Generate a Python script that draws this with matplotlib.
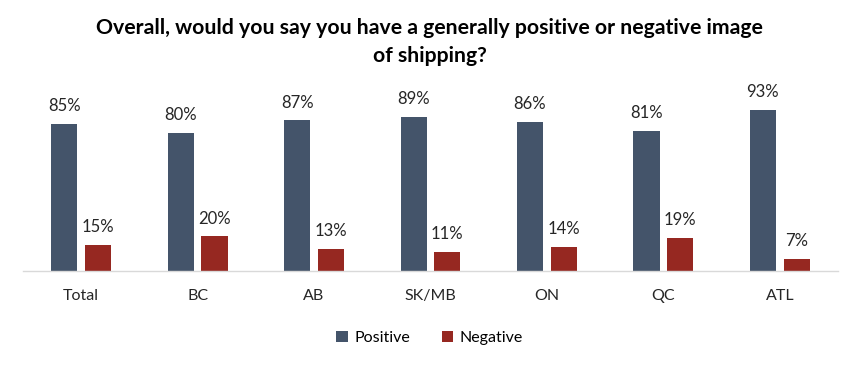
import numpy as np
import matplotlib.pyplot as plt

plt.rcParams['font.family'] = ['Lato', 'DejaVu Sans']

categories = ['Total', 'BC', 'AB', 'SK/MB', 'ON', 'QC', 'ATL']
positive = [85, 80, 87, 89, 86, 81, 93]
negative = [15, 20, 13, 11, 14, 19, 7]

POS_COLOR = '#44546A'
NEG_COLOR = '#962821'

fig = plt.figure(figsize=(8.59, 3.69), dpi=100)
ax = fig.add_axes([23 / 859, 98 / 369, 815 / 859, 173 / 369])

x = np.arange(len(categories))
w = 0.225
off = 0.145
b1 = ax.bar(x - off, positive, w, color=POS_COLOR, label='Positive')
b2 = ax.bar(x + off, negative, w, color=NEG_COLOR, label='Negative')

for bars, vals in ((b1, positive), (b2, negative)):
    for rect, v in zip(bars, vals):
        ax.annotate('{0}%'.format(v), (rect.get_x() + rect.get_width() / 2, v),
                    xytext=(0, 7), textcoords='offset points',
                    ha='center', va='bottom', fontsize=12, color='#262626')

ax.set_xlim(-0.5, len(categories) - 0.5)
ax.set_ylim(0, 100)
ax.set_xticks(x)
ax.set_xticklabels(categories, fontsize=11.5, color='#262626')
ax.tick_params(axis='x', length=0, pad=13)
ax.set_yticks([])
for s in ['top', 'left', 'right']:
    ax.spines[s].set_visible(False)
ax.spines['bottom'].set_color('#D9D9D9')
ax.spines['bottom'].set_linewidth(1.0)

fig.text(0.5, 0.952, 'Overall, would you say you have a generally positive or negative image\nof shipping?',
         ha='center', va='top', fontsize=15.3, fontweight='bold', linespacing=1.5)

fig.legend(handles=[b1, b2], loc='center', bbox_to_anchor=(0.5, 1 - 338 / 369),
           ncol=2, frameon=False, fontsize=11.5, handlelength=0.7, handleheight=0.7,
           columnspacing=2.0, handletextpad=0.4)

plt.savefig('out.png', dpi=100)
